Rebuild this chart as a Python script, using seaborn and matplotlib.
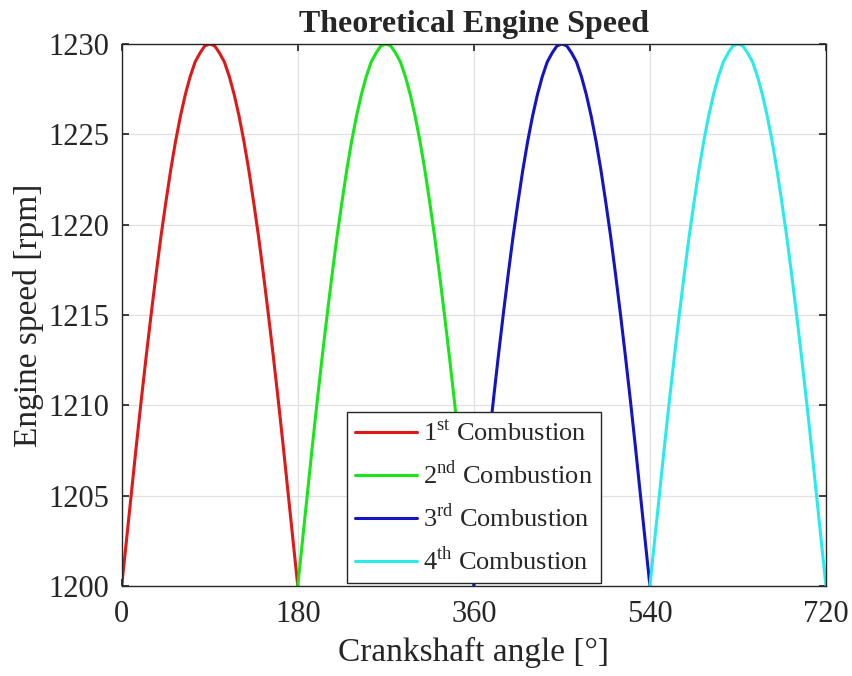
import numpy as np
import pandas as pd
import matplotlib
matplotlib.use("Agg")
import matplotlib.pyplot as plt
import seaborn as sns

# crank angle within one combustion stroke (deg)
stroke_angle = [0, 5, 10, 15, 20, 25, 30, 35, 40, 45, 50, 55, 60, 65, 70, 75, 80, 85, 90,
                95, 100, 105, 110, 115, 120, 125, 130, 135, 140, 145, 150, 155, 160, 165, 170, 175, 180]
# engine speed (rpm), same arc for each combustion
speed_1 = [1200, 1202.6, 1205.2, 1207.8, 1210.3, 1212.7, 1215.0, 1217.2, 1219.3, 1221.2,
           1223.0, 1224.6, 1226.0, 1227.2, 1228.2, 1229.0, 1229.5, 1229.9, 1230.0,
           1229.9, 1229.5, 1229.0, 1228.2, 1227.2, 1226.0, 1224.6, 1223.0, 1221.2, 1219.3,
           1217.2, 1215.0, 1212.7, 1210.3, 1207.8, 1205.2, 1202.6, 1200]
speed_2 = list(speed_1)
speed_3 = list(speed_1)
speed_4 = list(speed_1)
stroke_start = [0, 180, 360, 540]
labels = [r"1$^{\mathrm{st}}$ Combustion", r"2$^{\mathrm{nd}}$ Combustion",
          r"3$^{\mathrm{rd}}$ Combustion", r"4$^{\mathrm{th}}$ Combustion"]
colors = ["#e01818", "#18e618", "#1414c4", "#28ecec"]
x_ticks = [0, 180, 360, 540, 720]
y_ticks = [1200, 1205, 1210, 1215, 1220, 1225, 1230]

rows = []
for start, lab, sp in zip(stroke_start, labels, [speed_1, speed_2, speed_3, speed_4]):
    for a, v in zip(stroke_angle, sp):
        rows.append({"angle": start + a, "speed": v, "combustion": lab})
df = pd.DataFrame(rows)

sns.set_theme(style="whitegrid")
plt.rcParams["font.family"] = ["Liberation Serif", "DejaVu Serif"]
plt.rcParams["mathtext.fontset"] = "custom"
plt.rcParams["mathtext.rm"] = "Liberation Serif"

fig = plt.figure(figsize=(8.53, 6.76), dpi=100)
ax = fig.add_axes([0.1427, 0.1332, 0.8256, 0.8017])
sns.lineplot(data=df, x="angle", y="speed", hue="combustion", palette=colors,
             hue_order=labels, estimator=None, sort=True, linewidth=2.2,
             solid_joinstyle="round", solid_capstyle="round", ax=ax)

ax.set_xlim(0, 720)
ax.set_ylim(1200, 1230)
ax.set_xticks(x_ticks)
ax.set_yticks(y_ticks)
ax.tick_params(axis="both", labelsize=22, direction="in", length=5, color="#262626",
               labelcolor="#262626", top=True, right=True, bottom=True, left=True)
ax.tick_params(axis="y", pad=9)
ax.tick_params(axis="x", pad=10)
ax.grid(True, color="#e0e0e0", linewidth=0.9)
for s in ax.spines.values():
    s.set_visible(True)
    s.set_color("#262626")
    s.set_linewidth(1.0)
ax.set_facecolor("white")
ax.set_xlabel("Crankshaft angle [°]", fontsize=24, labelpad=6, color="#262626")
ax.set_ylabel("Engine speed [rpm]", fontsize=24, labelpad=3, color="#262626")
ax.set_title("Theoretical Engine Speed", fontsize=23, fontweight="bold", pad=9)

leg = ax.legend(loc="lower center", bbox_to_anchor=(0.5, 0.005), fontsize=19,
                frameon=True, fancybox=False, framealpha=1, edgecolor="#262626",
                handlelength=2.35, handletextpad=0.25, borderpad=0.3, labelspacing=0.55,
                borderaxespad=0)
leg.get_frame().set_linewidth(1.0)
for t in leg.get_texts():
    t.set_color("#262626")

fig.savefig("out.png", dpi=100)
